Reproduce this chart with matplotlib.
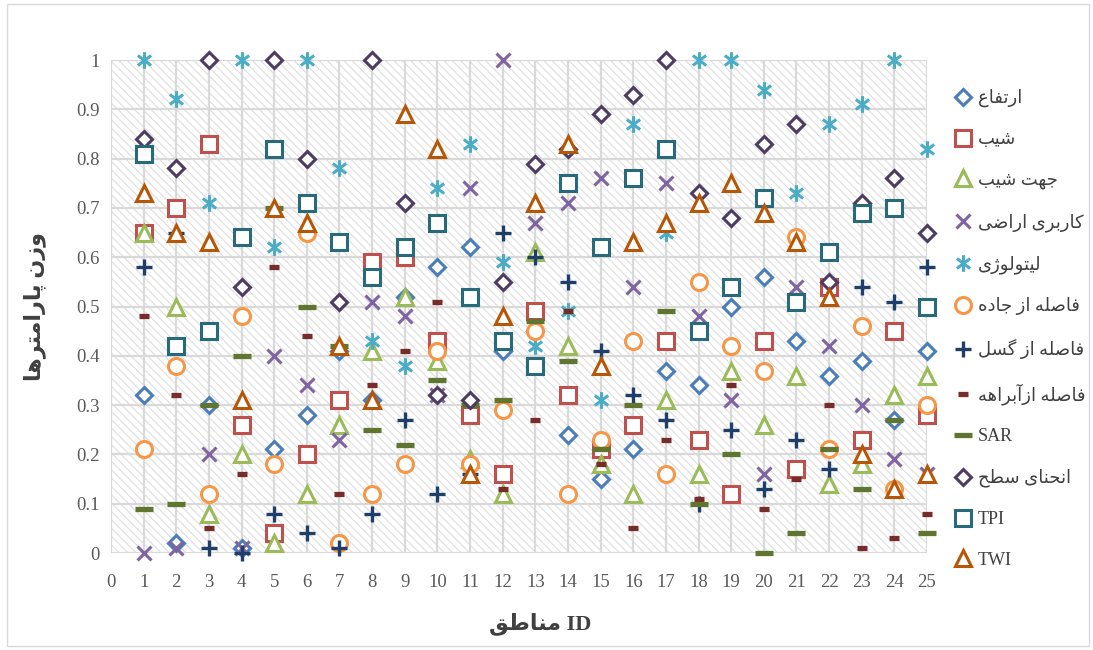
import matplotlib
matplotlib.use('Agg')
from matplotlib import pyplot as plt
from matplotlib.path import Path
from matplotlib.patches import Rectangle
import numpy as np

ids = list(range(1, 26))

elevation = [0.32, 0.02, 0.30, 0.01, 0.21, 0.28, 0.41, 0.31, 0.52, 0.58, 0.62, 0.41, 0.45,
             0.24, 0.15, 0.21, 0.37, 0.34, 0.50, 0.56, 0.43, 0.36, 0.39, 0.27, 0.41]
slope = [0.65, 0.70, 0.83, 0.26, 0.04, 0.20, 0.31, 0.59, 0.60, 0.43, 0.28, 0.16, 0.49,
         0.32, 0.21, 0.26, 0.43, 0.23, 0.12, 0.43, 0.17, 0.54, 0.23, 0.45, 0.28]
aspect = [0.65, 0.50, 0.08, 0.20, 0.02, 0.12, 0.26, 0.41, 0.52, 0.39, 0.19, 0.12, 0.61,
          0.42, 0.18, 0.12, 0.31, 0.16, 0.37, 0.26, 0.36, 0.14, 0.18, 0.32, 0.36]
landuse = [0.00, 0.01, 0.20, 0.01, 0.40, 0.34, 0.23, 0.51, 0.48, 0.32, 0.74, 1.00, 0.67,
           0.71, 0.76, 0.54, 0.75, 0.48, 0.31, 0.16, 0.54, 0.42, 0.30, 0.19, 0.16]
lithology = [1.00, 0.92, 0.71, 1.00, 0.62, 1.00, 0.78, 0.43, 0.38, 0.74, 0.83, 0.59, 0.42,
             0.49, 0.31, 0.87, 0.65, 1.00, 1.00, 0.94, 0.73, 0.87, 0.91, 1.00, 0.82]
road = [0.21, 0.38, 0.12, 0.48, 0.18, 0.65, 0.02, 0.12, 0.18, 0.41, 0.18, 0.29, 0.45,
        0.12, 0.23, 0.43, 0.16, 0.55, 0.42, 0.37, 0.64, 0.21, 0.46, 0.13, 0.30]
fault = [0.58, 0.65, 0.01, 0.00, 0.08, 0.04, 0.01, 0.08, 0.27, 0.12, 0.16, 0.65, 0.60,
         0.55, 0.41, 0.32, 0.27, 0.10, 0.25, 0.13, 0.23, 0.17, 0.54, 0.51, 0.58]
stream = [0.48, 0.32, 0.05, 0.16, 0.58, 0.44, 0.12, 0.34, 0.41, 0.51, 0.15, 0.13, 0.27,
          0.49, 0.18, 0.05, 0.23, 0.11, 0.34, 0.09, 0.15, 0.30, 0.01, 0.03, 0.08]
sar = [0.09, 0.10, 0.30, 0.40, 0.70, 0.50, 0.42, 0.25, 0.22, 0.35, 0.30, 0.31, 0.47,
       0.39, 0.21, 0.30, 0.49, 0.10, 0.20, 0.00, 0.04, 0.21, 0.13, 0.27, 0.04]
curvature = [0.84, 0.78, 1.00, 0.54, 1.00, 0.80, 0.51, 1.00, 0.71, 0.32, 0.31, 0.55, 0.79,
             0.82, 0.89, 0.93, 1.00, 0.73, 0.68, 0.83, 0.87, 0.55, 0.71, 0.76, 0.65]
tpi = [0.81, 0.42, 0.45, 0.64, 0.82, 0.71, 0.63, 0.56, 0.62, 0.67, 0.52, 0.43, 0.38,
       0.75, 0.62, 0.76, 0.82, 0.45, 0.54, 0.72, 0.51, 0.61, 0.69, 0.70, 0.50]
twi = [0.73, 0.65, 0.63, 0.31, 0.70, 0.67, 0.42, 0.31, 0.89, 0.82, 0.16, 0.48, 0.71,
       0.83, 0.38, 0.63, 0.67, 0.71, 0.75, 0.69, 0.63, 0.52, 0.20, 0.13, 0.16]

names = ['ارتفاع', 'شیب', 'جهت شیب', 'کاربری اراضی', 'لیتولوژی', 'فاصله از جاده',
         'فاصله از گسل', 'فاصله ازآبراهه', 'SAR', 'انحنای سطح', 'TPI', 'TWI']

# matplotlib does no arabic shaping, so pick presentation forms by hand
FORMS = {
    '\u0627': ('\uFE8D', '\uFE8E'),
    '\u0622': ('\uFE81', '\uFE82'),
    '\u0628': ('\uFE8F', '\uFE90', '\uFE91', '\uFE92'),
    '\u062A': ('\uFE95', '\uFE96', '\uFE97', '\uFE98'),
    '\u062C': ('\uFE9D', '\uFE9E', '\uFE9F', '\uFEA0'),
    '\u062D': ('\uFEA1', '\uFEA2', '\uFEA3', '\uFEA4'),
    '\u062F': ('\uFEA9', '\uFEAA'),
    '\u0631': ('\uFEAD', '\uFEAE'),
    '\u0632': ('\uFEAF', '\uFEB0'),
    '\u0633': ('\uFEB1', '\uFEB2', '\uFEB3', '\uFEB4'),
    '\u0634': ('\uFEB5', '\uFEB6', '\uFEB7', '\uFEB8'),
    '\u0635': ('\uFEB9', '\uFEBA', '\uFEBB', '\uFEBC'),
    '\u0636': ('\uFEBD', '\uFEBE', '\uFEBF', '\uFEC0'),
    '\u0637': ('\uFEC1', '\uFEC2', '\uFEC3', '\uFEC4'),
    '\u0639': ('\uFEC9', '\uFECA', '\uFECB', '\uFECC'),
    '\u0641': ('\uFED1', '\uFED2', '\uFED3', '\uFED4'),
    '\u0642': ('\uFED5', '\uFED6', '\uFED7', '\uFED8'),
    '\u0644': ('\uFEDD', '\uFEDE', '\uFEDF', '\uFEE0'),
    '\u0645': ('\uFEE1', '\uFEE2', '\uFEE3', '\uFEE4'),
    '\u0646': ('\uFEE5', '\uFEE6', '\uFEE7', '\uFEE8'),
    '\u0647': ('\uFEE9', '\uFEEA', '\uFEEB', '\uFEEC'),
    '\u0648': ('\uFEED', '\uFEEE'),
    '\u067E': ('\uFB56', '\uFB57', '\uFB58', '\uFB59'),
    '\u0698': ('\uFB8A', '\uFB8B'),
    '\u06A9': ('\uFB8E', '\uFB8F', '\uFB90', '\uFB91'),
    '\u06AF': ('\uFB92', '\uFB93', '\uFB94', '\uFB95'),
    '\u06CC': ('\uFBFC', '\uFBFD', '\uFBFE', '\uFBFF'),
}


def fa(s):
    s = s.replace('\u064A', '\u06CC').replace('\u0649', '\u06CC').replace('\u0643', '\u06A9')
    if not any(c in FORMS for c in s):
        return s
    out = []
    for i, c in enumerate(s):
        if c not in FORMS:
            out.append(c)
            continue
        prev = s[i - 1] if i > 0 else ''
        nxt = s[i + 1] if i + 1 < len(s) else ''
        jp = prev in FORMS and len(FORMS[prev]) == 4
        jn = nxt in FORMS and len(FORMS[c]) == 4
        f = FORMS[c]
        if jp and jn:
            out.append(f[3])
        elif jp:
            out.append(f[1])
        elif jn:
            out.append(f[2])
        else:
            out.append(f[0])
    return ''.join(out)[::-1]


fam = ['Liberation Serif', 'DejaVu Sans']
plt.rcParams['font.family'] = fam
plt.rcParams['hatch.linewidth'] = 0.8

star = Path([(0, -1), (0, 1), (-0.8, -0.6), (0.8, 0.6), (-0.8, 0.6), (0.8, -0.6)],
            [Path.MOVETO, Path.LINETO] * 3)

styles = [
    (elevation, 'D', '#4A7EBB', 7.8, 2.2),
    (slope, 's', '#C0504D', 11, 2.2),
    (aspect, '^', '#9BBB59', 11, 2.2),
    (landuse, 'x', '#8064A2', 10, 2.2),
    (lithology, star, '#4BACC6', 12, 2.2),
    (road, 'o', '#F79646', 11.5, 2.2),
    (fault, '+', '#1F3F6A', 11, 2.4),
    (stream, '_', '#772C2A', 7, 3.8),
    (sar, '_', '#5F7530', 13, 3.8),
    (curvature, 'D', '#4D3B62', 7.8, 2.2),
    (tpi, 's', '#276A7C', 11, 2.2),
    (twi, '^', '#B65708', 11, 2.2),
]

fig = plt.figure(figsize=(10.93, 6.5), dpi=100)
fig.add_artist(Rectangle((0.006, 0.006), 0.99, 0.988, transform=fig.transFigure,
                         fill=False, edgecolor='#D9D9D9', lw=1))
ax = fig.add_axes([111 / 1093, 97 / 650, 816 / 1093, 493 / 650])

ax.add_patch(Rectangle((0, 0), 25, 1, facecolor='white', edgecolor='#DEDEDE',
                       hatch='\\\\\\\\', lw=0, zorder=0))
ax.set_xlim(0, 25)
ax.set_ylim(0, 1)
ax.set_xticks(range(26))
ax.set_yticks(np.round(np.arange(0, 1.01, 0.1), 1))
ax.set_yticklabels(['0'] + ['%.1f' % v for v in np.arange(0.1, 0.95, 0.1)] + ['1'])
ax.grid(True, color='#D9D9D9', lw=1.6, zorder=1)
ax.set_axisbelow(False)
for s in ax.spines.values():
    s.set_visible(False)
ax.tick_params(length=0, labelsize=13.5, labelcolor='#595959')
ax.tick_params(axis='x', pad=15)
ax.tick_params(axis='y', pad=8)

handles = []
for (vals, m, c, ms, mew), name in zip(styles, names):
    h, = ax.plot(ids, vals, linestyle='none', marker=m, ms=ms, mew=mew, mec=c,
                 mfc='white', clip_on=False, zorder=3, label=fa(name))
    handles.append(h)

fig.legend(handles=handles, loc='upper left', bbox_to_anchor=(0.866, 0.874),
           frameon=False, numpoints=1, handlelength=1.0, handletextpad=0.35,
           labelspacing=1.31, borderaxespad=0, labelcolor='#404040',
           prop={'family': fam, 'size': 13})

fig.text(0.494, 0.04, fa('مناطق') + ' ID', ha='center', va='center', fontsize=16,
         fontweight='bold', color='#404040')
fig.text(0.032, 0.528, fa('وزن پارامترها'), ha='center', va='center', rotation=90,
         fontsize=16, fontweight='bold', color='#404040')

fig.savefig('out.png', dpi=100)
